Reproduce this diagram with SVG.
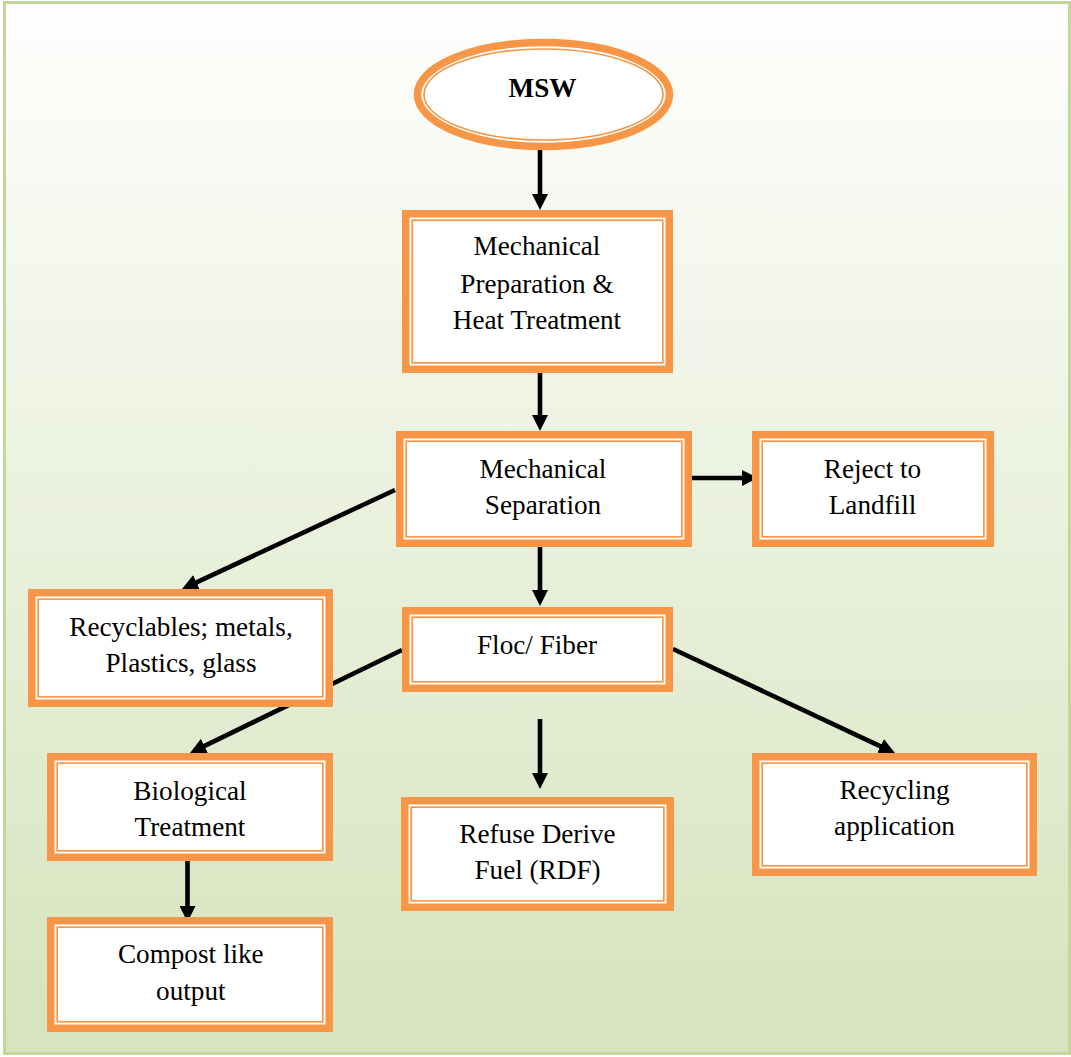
<svg xmlns="http://www.w3.org/2000/svg" width="1071" height="1057" viewBox="0 0 1071 1057">
  <defs>
    <linearGradient id="bg" x1="0" y1="0" x2="0" y2="1">
      <stop offset="0" stop-color="#fefefd"/>
      <stop offset="1" stop-color="#d6e3bc"/>
    </linearGradient>
    <marker id="ah" viewBox="0 0 16 16" markerWidth="16" markerHeight="16" markerUnits="userSpaceOnUse" refX="6" refY="8" orient="auto">
      <path d="M0,0 L16,8 L0,16 z" fill="#000"/>
    </marker>
  </defs>
  <style>
    .outer { fill: #ffffff; stroke: #f79646; stroke-width: 7.5; }
    .inner { fill: none; stroke: #f79646; stroke-width: 1.7; }
    .t { font-family: "Liberation Serif", "Times New Roman", serif; font-size: 27.2px; fill: #000; text-anchor: middle; }
    .b { font-weight: bold; }
    .c { fill: none; stroke: #000; stroke-width: 4.6; marker-end: url(#ah); }
  </style>
  <rect x="4.5" y="2.5" width="1065" height="1051" fill="url(#bg)" stroke="#c3d69b" stroke-width="3"/>

  <g id="connectors">
    <path class="c" d="M540,145 L540,200"/>
    <path class="c" d="M540,372 L540,421"/>
    <path class="c" d="M540,547 L540,596"/>
    <path class="c" d="M692,478 L748,478"/>
    <path class="c" d="M395,490 L191.1,584.8"/>
    <path class="c" d="M402,650 L199,748.6"/>
    <path class="c" d="M673,649 L885.9,748.8"/>
    <path class="c" d="M540,719 L540,779"/>
    <path class="c" d="M187.5,853 L187.5,912"/>
  </g>

  <g id="msw">
    <ellipse cx="543.5" cy="94.5" rx="126" ry="52" class="outer"/>
    <ellipse cx="543.5" cy="94.5" rx="119.5" ry="45.5" class="inner"/>
    <text x="542.5" y="97" class="t b" font-size="26">MSW</text>
  </g>

  <g id="mech-prep">
    <rect x="405.75" y="213.75" width="263.5" height="155.5" class="outer"/>
    <rect x="412.2" y="220.2" width="250.6" height="142.6" class="inner"/>
    <text class="t" x="537" y="255">Mechanical</text>
    <text class="t" x="537" y="292.5">Preparation &amp;</text>
    <text class="t" x="537" y="328.5">Heat Treatment</text>
  </g>

  <g id="mech-sep">
    <rect x="399.75" y="434.75" width="288.5" height="108.5" class="outer"/>
    <rect x="406.2" y="441.2" width="275.6" height="95.6" class="inner"/>
    <text class="t" x="543" y="478.3">Mechanical</text>
    <text class="t" x="543" y="514.3">Separation</text>
  </g>

  <g id="reject">
    <rect x="755.75" y="434.75" width="234.5" height="108.5" class="outer"/>
    <rect x="762.2" y="441.2" width="221.6" height="95.6" class="inner"/>
    <text class="t" x="872.5" y="478.3">Reject to</text>
    <text class="t" x="872.5" y="514.3">Landfill</text>
  </g>

  <g id="recyclables">
    <rect x="31.75" y="592.75" width="297.5" height="110.5" class="outer"/>
    <rect x="38.2" y="599.2" width="284.6" height="97.6" class="inner"/>
    <text class="t" x="181" y="635.7">Recyclables; metals,</text>
    <text class="t" x="181" y="671.7">Plastics, glass</text>
  </g>

  <g id="floc">
    <rect x="405.75" y="610.75" width="263.5" height="77.5" class="outer"/>
    <rect x="412.2" y="617.2" width="250.6" height="64.6" class="inner"/>
    <text class="t" x="537" y="654">Floc/ Fiber</text>
  </g>

  <g id="bio">
    <rect x="50.75" y="756.75" width="278.5" height="100.5" class="outer"/>
    <rect x="57.2" y="763.2" width="265.6" height="87.6" class="inner"/>
    <text class="t" x="190" y="800">Biological</text>
    <text class="t" x="190" y="836">Treatment</text>
  </g>

  <g id="rdf">
    <rect x="404.75" y="800.75" width="265.5" height="106.5" class="outer"/>
    <rect x="411.2" y="807.2" width="252.6" height="93.6" class="inner"/>
    <text class="t" x="537.5" y="842.7">Refuse Derive</text>
    <text class="t" x="537.5" y="879">Fuel (RDF)</text>
  </g>

  <g id="recycling">
    <rect x="755.75" y="756.75" width="277.5" height="115.5" class="outer"/>
    <rect x="762.2" y="763.2" width="264.6" height="102.6" class="inner"/>
    <text class="t" x="894.5" y="799.3">Recycling</text>
    <text class="t" x="894.5" y="835">application</text>
  </g>

  <g id="compost">
    <rect x="50.75" y="920.75" width="278.5" height="107.5" class="outer"/>
    <rect x="57.2" y="927.2" width="265.6" height="94.6" class="inner"/>
    <text class="t" x="190.8" y="963.3">Compost like</text>
    <text class="t" x="190.8" y="1000">output</text>
  </g>
</svg>
